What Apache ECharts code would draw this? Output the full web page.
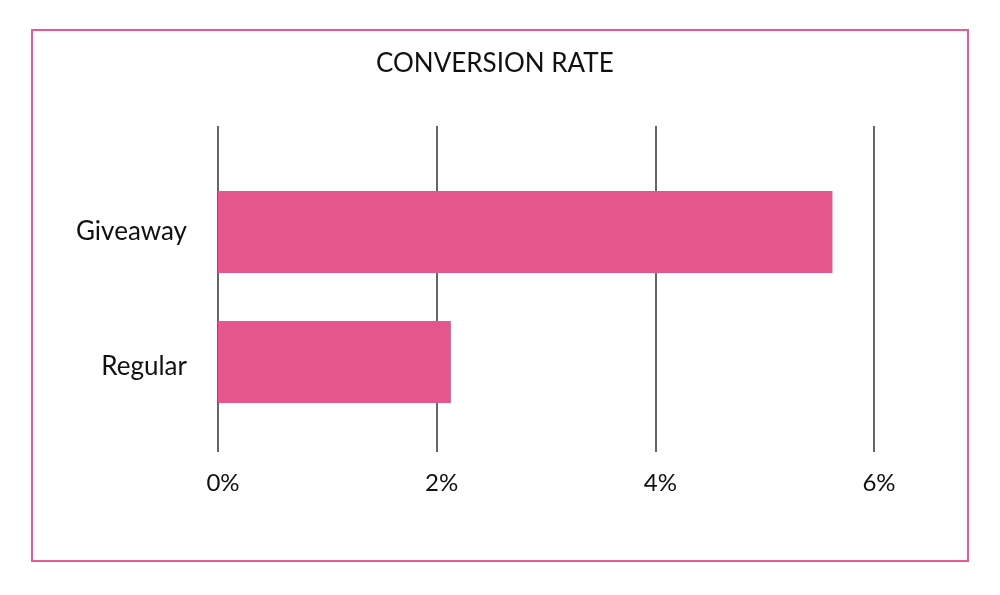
<!DOCTYPE html>
<html>
<head>
<meta charset="utf-8">
<script src="https://cdn.jsdelivr.net/npm/echarts@6/dist/echarts.min.js"></script>
<style>
html,body{margin:0;padding:0;background:#fff;}
#c{width:1000px;height:595px;}
</style>
</head>
<body>
<div id="c"></div>
<script>
const categories = ['Giveaway', 'Regular'];
const values = [5.62, 2.13];
const tickLabels = ['0%', '2%', '4%', '6%'];
const titleText = 'CONVERSION RATE';

const FONT = 'Lato, "Open Sans", sans-serif';
const chart = echarts.init(document.getElementById('c'), null, {renderer: 'canvas'});
chart.setOption({
  backgroundColor: '#ffffff',
  animation: false,
  title: {
    text: titleText, left: 376, top: 51, padding: 0,
    textStyle: {fontFamily: FONT, fontSize: 26, fontWeight: 'normal', color: '#111'}
  },
  graphic: [{
    type: 'rect', shape: {x: 32, y: 30, width: 936, height: 531},
    style: {fill: 'none', stroke: '#ea5a8f', lineWidth: 2}, z: 10
  }],
  grid: [
    {left: 218, right: 126, top: 126, height: 326},
    {left: 218, right: 126, top: 167, height: 260}
  ],
  xAxis: [
    {
      gridIndex: 0, type: 'value', min: 0, max: 6, interval: 2,
      axisLine: {show: false}, axisTick: {show: false},
      splitLine: {show: true, lineStyle: {color: '#333', width: 1.5}},
      axisLabel: {
        margin: 19, fontFamily: FONT, fontSize: 24, color: '#111',
        padding: [0, 0, 0, 10],
        formatter: function (v) { return tickLabels[Math.round(v / 2)]; }
      }
    },
    {
      gridIndex: 1, type: 'value', min: 0, max: 6, interval: 2, show: false
    }
  ],
  yAxis: [
    {gridIndex: 0, type: 'category', data: categories, show: false},
    {
      gridIndex: 1, type: 'category', data: categories, inverse: true,
      axisLine: {show: false}, axisTick: {show: false},
      axisLabel: {
        margin: 31, fontFamily: FONT, fontSize: 26, color: '#111',
        formatter: function (v, i) { return i === 1 ? '{b|' + v + '}' : '{a|' + v + '}'; },
        rich: {
          a: {fontFamily: FONT, fontSize: 26, color: '#111'},
          b: {fontFamily: FONT, fontSize: 26, color: '#111', padding: [10, 0, 0, 0]}
        }
      }
    }
  ],
  series: [{
    type: 'bar', xAxisIndex: 1, yAxisIndex: 1, data: values, barWidth: 82,
    itemStyle: {color: '#e5558e'}, z: 5
  }]
});
</script>
</body>
</html>
